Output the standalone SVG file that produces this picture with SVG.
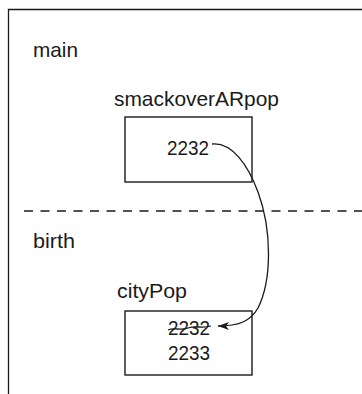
<svg xmlns="http://www.w3.org/2000/svg" width="362" height="394" viewBox="0 0 362 394">
<style>
.t{font-family:"Liberation Sans",Arial,sans-serif;font-size:21px;fill:#1a1a1a}
.ln{fill:none;stroke:#1a1a1a;stroke-width:1.3}
.box{fill:#fff;stroke:#1a1a1a;stroke-width:1.4}
</style>
<defs>
<marker id="ah" markerWidth="12" markerHeight="10" refX="11" refY="5" orient="auto" markerUnits="userSpaceOnUse">
<path d="M0,1 L11,5 L0,9 L3,5 Z" fill="#1a1a1a"/>
</marker>
</defs>
<rect width="362" height="394" fill="#fff"/>
<g id="frame">
<path class="ln" d="M8.5,394 V9.5 H362"/>
<line class="ln" x1="24" y1="211" x2="362" y2="211" stroke-dasharray="9 7.5"/>
<text class="t" x="33" y="57" textLength="45" lengthAdjust="spacingAndGlyphs">main</text>
<text class="t" x="33" y="248" textLength="42" lengthAdjust="spacingAndGlyphs">birth</text>
</g>
<g id="smackoverARpop">
<text class="t" x="114" y="106" textLength="165" lengthAdjust="spacingAndGlyphs">smackoverARpop</text>
<rect class="box" x="125" y="117" width="127" height="65"/>
<text class="t" x="167" y="155" textLength="42" lengthAdjust="spacingAndGlyphs">2232</text>
</g>
<g id="cityPop">
<text class="t" x="117" y="298" textLength="70" lengthAdjust="spacingAndGlyphs">cityPop</text>
<rect class="box" x="125" y="311" width="127" height="64"/>
<text class="t" x="168" y="335" textLength="42" lengthAdjust="spacingAndGlyphs">2232</text>
<path class="ln" d="M168,330 C174,327 180,331 188,328 C196,325 202,329 211,326"/>
<text class="t" x="168" y="360" textLength="42" lengthAdjust="spacingAndGlyphs">2233</text>
</g>
<g id="connectors">
<path class="ln" d="M212,144 C232,142 248,165 258,192 C272,230 272,280 258,308 C250,322 238,326 218,326" marker-end="url(#ah)"/>
</g>
</svg>
